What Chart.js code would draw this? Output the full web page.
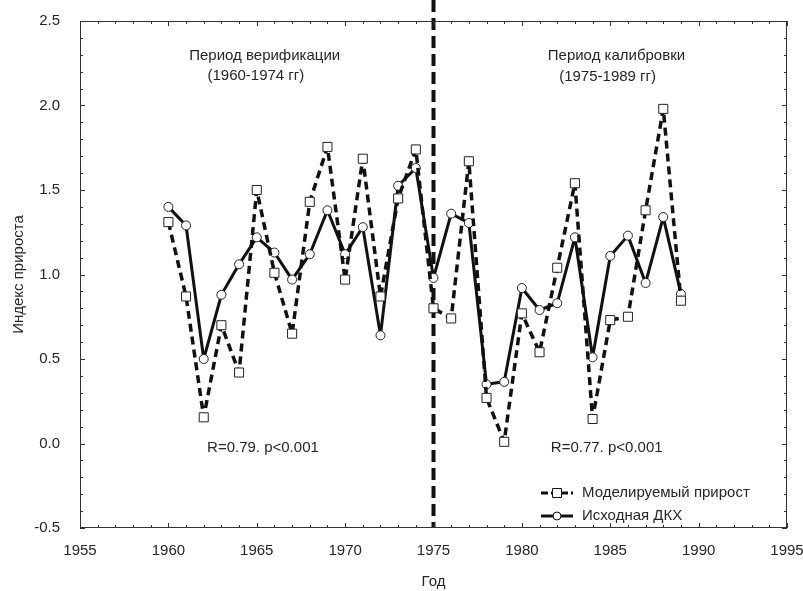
<!DOCTYPE html>
<html lang="ru">
<head>
    <meta charset="UTF-8">
    <title>Индекс прироста</title>
    <script src="https://cdn.jsdelivr.net/npm/chart.js"></script>
    <style>
        body {
            margin: 0;
            background-color: #fff;
        }
        #wrap {
            width: 803px;
            height: 591px;
        }
    </style>
</head>
<body>
    <div id="wrap"><canvas id="growthCanvas" width="803" height="591"></canvas></div>

    <script>
        // Years and the two series
        const years = [1960, 1961, 1962, 1963, 1964, 1965, 1966, 1967, 1968, 1969,
                       1970, 1971, 1972, 1973, 1974, 1975, 1976, 1977, 1978, 1979,
                       1980, 1981, 1982, 1983, 1984, 1985, 1986, 1987, 1988, 1989];
        const modelled = [1.31, 0.87, 0.155, 0.70, 0.42, 1.50, 1.01, 0.65, 1.43, 1.755,
                          0.97, 1.685, 0.87, 1.45, 1.74, 0.80, 0.74, 1.67, 0.27, 0.01,
                          0.77, 0.54, 1.04, 1.54, 0.145, 0.73, 0.75, 1.38, 1.98, 0.845];
        const original = [1.40, 1.29, 0.50, 0.88, 1.06, 1.22, 1.13, 0.97, 1.12, 1.38,
                          1.12, 1.28, 0.64, 1.525, 1.63, 0.98, 1.36, 1.305, 0.35, 0.365,
                          0.92, 0.79, 0.83, 1.22, 0.51, 1.11, 1.23, 0.95, 1.34, 0.885];
        const seriesNames = ['Моделируемый прирост', 'Исходная ДКХ'];
        const splitYear = 1975;

        // Text notes, placed in data coordinates
        const notes = [
            { text: 'Период верификации', x: 1965.45, y: 2.295 },
            { text: '(1960-1974 гг)', x: 1964.95, y: 2.175 },
            { text: 'Период калибровки', x: 1985.35, y: 2.295 },
            { text: '(1975-1989 гг)', x: 1984.85, y: 2.17 },
            { text: 'R=0.79. p<0.001', x: 1965.35, y: -0.028 },
            { text: 'R=0.77. p<0.001', x: 1984.8, y: -0.028 }
        ];

        const FONT = "'Liberation Sans', Arial, sans-serif";
        const INK = '#262626';

        // Frame, inward ticks, split line, notes and legend
        const decorPlugin = {
            id: 'decor',
            beforeDatasetsDraw(chart) {
                const { ctx, chartArea: a, scales: { x } } = chart;
                const px = x.getPixelForValue(splitYear);
                ctx.save();
                ctx.strokeStyle = '#111';
                ctx.lineWidth = 4;
                ctx.setLineDash([12, 6]);
                ctx.beginPath();
                ctx.moveTo(px, 0);
                ctx.lineTo(px, a.bottom);
                ctx.stroke();
                ctx.restore();
            },
            afterDraw(chart) {
                const { ctx, chartArea: a, scales: { x, y } } = chart;
                ctx.save();
                ctx.strokeStyle = '#333';
                ctx.lineWidth = 1;
                ctx.strokeRect(a.left + 0.5, a.top + 0.5, a.right - a.left - 1, a.bottom - a.top - 1);

                // year ticks on bottom and top
                ctx.beginPath();
                for (let yr = 1955; yr <= 1995; yr++) {
                    const p = Math.round(x.getPixelForValue(yr)) + 0.5;
                    const len = yr % 5 === 0 ? 5 : 3;
                    ctx.moveTo(p, a.bottom); ctx.lineTo(p, a.bottom - len);
                    ctx.moveTo(p, a.top); ctx.lineTo(p, a.top + len);
                }
                // 0.1 ticks on left and right
                for (let i = -5; i <= 25; i++) {
                    const p = Math.round(y.getPixelForValue(i / 10)) + 0.5;
                    const len = i % 5 === 0 ? 5 : 3;
                    ctx.moveTo(a.left, p); ctx.lineTo(a.left + len, p);
                    ctx.moveTo(a.right, p); ctx.lineTo(a.right - len, p);
                }
                ctx.stroke();

                // notes
                ctx.fillStyle = INK;
                ctx.font = '15px ' + FONT;
                ctx.textAlign = 'center';
                ctx.textBaseline = 'middle';
                notes.forEach(n => {
                    ctx.fillText(n.text, x.getPixelForValue(n.x), y.getPixelForValue(n.y));
                });

                // legend, bottom right inside the frame
                const lx = 541, rows = [493, 516];
                chart.data.datasets.forEach((ds, i) => {
                    const ly = rows[i];
                    ctx.strokeStyle = '#111';
                    ctx.lineWidth = 3;
                    ctx.setLineDash(i === 0 ? [7, 3] : []);
                    ctx.beginPath();
                    ctx.moveTo(lx, ly); ctx.lineTo(lx + 32, ly);
                    ctx.stroke();
                    ctx.setLineDash([]);
                    ctx.lineWidth = 1;
                    ctx.fillStyle = '#fff';
                    ctx.beginPath();
                    if (i === 0) {
                        ctx.rect(lx + 11.5, ly - 4.5, 9, 9);
                    } else {
                        ctx.arc(lx + 16, ly, 4, 0, Math.PI * 2);
                    }
                    ctx.fill();
                    ctx.stroke();
                    ctx.fillStyle = INK;
                    ctx.textAlign = 'left';
                    ctx.fillText(ds.label, lx + 41, ly);
                });
                ctx.restore();
            }
        };

        const ctx = document.getElementById('growthCanvas').getContext('2d');
        const growthChart = new Chart(ctx, {
            type: 'line',
            data: {
                datasets: [{
                    label: seriesNames[0],
                    data: years.map((yr, i) => ({ x: yr, y: modelled[i] })),
                    borderColor: '#111',
                    borderWidth: 3.5,
                    borderDash: [8, 5],
                    borderJoinStyle: 'bevel',
                    pointStyle: 'rect',
                    pointRadius: 6.4,
                    pointBorderWidth: 1,
                    pointBorderColor: '#222',
                    pointBackgroundColor: '#fff',
                    tension: 0
                }, {
                    label: seriesNames[1],
                    data: years.map((yr, i) => ({ x: yr, y: original[i] })),
                    borderColor: '#111',
                    borderWidth: 3,
                    borderJoinStyle: 'bevel',
                    pointStyle: 'circle',
                    pointRadius: 4.5,
                    pointBorderWidth: 1,
                    pointBorderColor: '#222',
                    pointBackgroundColor: '#fff',
                    tension: 0
                }]
            },
            options: {
                responsive: false,
                animation: false,
                layout: { padding: { top: 15, right: 16, left: 0, bottom: 0 } },
                plugins: {
                    legend: { display: false },
                    tooltip: { enabled: false }
                },
                scales: {
                    x: {
                        type: 'linear',
                        min: 1955,
                        max: 1995,
                        grid: { display: false },
                        border: { display: false },
                        ticks: {
                            stepSize: 5,
                            padding: 6,
                            color: INK,
                            font: { family: FONT, size: 15 },
                            maxRotation: 0,
                            callback: v => String(v)
                        },
                        title: {
                            display: true,
                            text: 'Год',
                            color: INK,
                            font: { family: FONT, size: 15 },
                            padding: { top: 4, bottom: 0 }
                        },
                        afterFit(scale) {
                            scale.height = 63;
                            scale.paddingLeft = 0;
                            scale.paddingRight = 0;
                        }
                    },
                    y: {
                        min: -0.5,
                        max: 2.5,
                        grid: { display: false },
                        border: { display: false },
                        ticks: {
                            stepSize: 0.5,
                            padding: 12,
                            color: INK,
                            font: { family: FONT, size: 15 },
                            callback: v => v.toFixed(1)
                        },
                        title: {
                            display: true,
                            text: 'Индекс прироста',
                            color: INK,
                            font: { family: FONT, size: 15 },
                            padding: { top: 10, bottom: 4 }
                        },
                        afterFit(scale) { scale.width = 80; }
                    }
                }
            },
            plugins: [decorPlugin]
        });
    </script>
</body>
</html>
